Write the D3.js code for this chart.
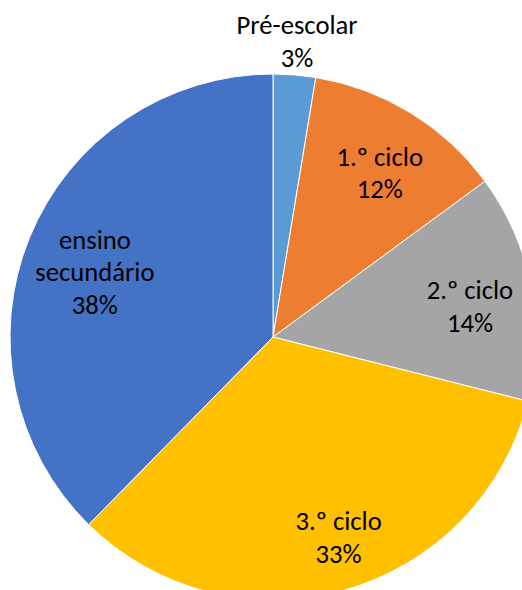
<!DOCTYPE html>
<html><head><meta charset="utf-8">
<script src="https://cdn.jsdelivr.net/npm/d3@7"></script>
<style>html,body{margin:0;padding:0;background:#fff;overflow:hidden}</style>
</head><body>
<svg id="chart" width="522" height="590"></svg>
<script>
const categories = ["Pré-escolar", "1.º ciclo", "2.º ciclo", "3.º ciclo", "ensino secundário"];
const values = [2.6, 12.3, 14.0, 33.4, 37.6];
const labelLines = [["Pré-escolar"], ["1.º ciclo"], ["2.º ciclo"], ["3.º ciclo"], ["ensino", "secundário"]];
const colors = ["#5B9BD5", "#ED7D31", "#A5A5A5", "#FFC000", "#4472C4"];

const cx = 273, cy = 337, r = 263;
const svg = d3.select("#chart");
const g = svg.append("g").attr("transform", `translate(${cx},${cy})`);

const total = d3.sum(values);
const data = categories.map((c, i) => ({cat: c, value: values[i], lines: labelLines[i], color: colors[i]}));
const pie = d3.pie().value(d => d.value).sort(null);
const arcs = pie(data);
const arc = d3.arc().innerRadius(0).outerRadius(r);

g.selectAll("path").data(arcs).join("path")
  .attr("d", arc)
  .attr("fill", d => d.data.color)
  .attr("stroke", "#fff")
  .attr("stroke-width", 1);

// label placement: inside slices at ~0.74r, small slice outside
const inner = d3.arc().innerRadius(r * 0.74).outerRadius(r * 0.74);
const outer = d3.arc().innerRadius(r * 1.12).outerRadius(r * 1.12);
const nudge = [[0, 0], [5, 4], [6, 9], [13, 15], [2, 11]];
const lineH = 32.5, fs = 26.67;

arcs.forEach((a, i) => {
  const p = (i === 0 ? outer : inner).centroid(a);
  const x = p[0] + nudge[i][0], y = p[1] + nudge[i][1];
  const lines = a.data.lines.concat([Math.round(a.data.value / total * 100) + "%"]);
  const n = lines.length;
  const t = g.append("text")
    .attr("text-anchor", "middle")
    .attr("font-family", "Carlito, Calibri, Lato, sans-serif")
    .attr("font-size", fs)
    .attr("fill", "#000");
  lines.forEach((ln, k) => {
    t.append("tspan")
      .attr("x", x)
      .attr("y", y + (k - (n - 1) / 2) * lineH + 7)
      .text(ln);
  });
});
</script>
</body></html>
